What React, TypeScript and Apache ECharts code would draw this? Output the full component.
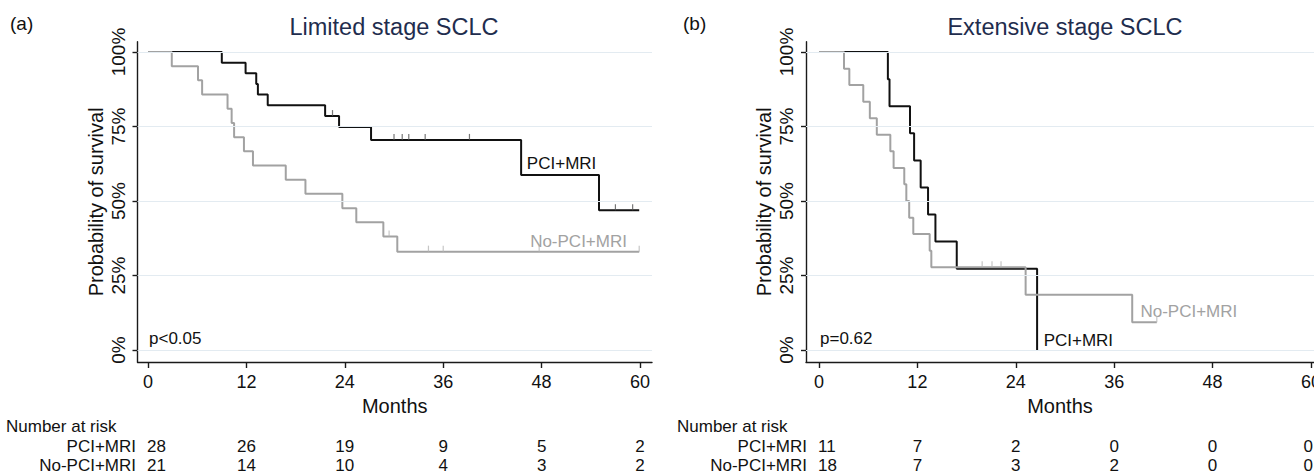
import React, { useEffect, useRef } from 'react';
import * as echarts from 'echarts';

// ---------- data ----------
const panelLabels = ['(a)', '(b)'];
const panelTitles = ['Limited stage SCLC', 'Extensive stage SCLC'];
const groupNames = ['PCI+MRI', 'No-PCI+MRI'];
const pValues = ['p<0.05', 'p=0.62'];
const xTicks = [0, 12, 24, 36, 48, 60];
const yTicks = [0, 25, 50, 75, 100];

// Limited stage, PCI+MRI (months, survival %)
const limPciT = [0, 9.0, 11.9, 13.2, 13.4, 14.6, 21.6, 23.3, 27.2, 45.5, 55.0, 59.9];
const limPciS = [100, 96.4, 92.9, 89.3, 85.7, 82.1, 78.5, 74.8, 70.5, 58.7, 46.9, 46.9];
const limPciCensor = [22.5, 30.0, 31.0, 31.8, 33.8, 39.2, 57.0, 59.1];
// Limited stage, No-PCI+MRI
const limNoT = [0, 2.9, 6.1, 6.6, 9.7, 10.2, 10.5, 11.7, 12.8, 16.8, 19.2, 23.7, 25.4, 28.7, 30.4, 59.9];
const limNoS = [100, 95.2, 90.5, 85.7, 81.0, 76.2, 71.4, 66.7, 61.9, 57.1, 52.4, 47.6, 42.9, 38.1, 33.0, 33.0];
const limNoCensor = [29.4, 34.2, 36.0, 47.7, 59.9];

// Extensive stage, PCI+MRI
const extPciT = [0, 8.4, 8.6, 11.1, 11.6, 12.4, 13.3, 14.2, 16.8, 26.6];
const extPciS = [100, 90.9, 81.8, 72.7, 63.6, 54.5, 45.5, 36.4, 27.3, 0];
const extPciCensor: number[] = [];
// Extensive stage, No-PCI+MRI
const extNoT = [0, 3.05, 3.7, 5.4, 6.2, 7.05, 8.7, 9.1, 10.4, 10.65, 11.0, 11.5, 13.5, 13.7, 25.2, 38.2, 41.2];
const extNoS = [100, 94.4, 88.9, 83.3, 77.8, 72.2, 66.7, 61.1, 55.6, 50.0, 44.4, 38.9, 33.3, 27.8, 18.5, 9.3, 9.3];
const extNoCensor = [19.9, 21.1, 22.2, 41.2];

// Numbers at risk at xTicks
const limRiskPci = [28, 26, 19, 9, 5, 2];
const limRiskNo = [21, 14, 10, 4, 3, 2];
const extRiskPci = [11, 7, 2, 0, 0, 0];
const extRiskNo = [18, 7, 3, 2, 0, 0];

// ---------- styling ----------
const FONT = '"Liberation Sans", Arial, Helvetica, sans-serif';
const BLACK = '#111111';
const GRAY = '#a2a2a2';
const AXIS = '#1a1a1a';
const GRID = '#e3ebf1';
const NAVY = '#1f2d4e';
const W = 1314;

const grids = [
  { left: 137.5, top: 41.7, width: 514.5, height: 320.3 },
  { left: 806, top: 41.7, width: 508, height: 320.3 },
];
const xRanges = [
  [-1.28, 61.46],
  [-1.585, 60.37],
];
const yRange = [-4.03, 103.46];

const panels = [
  {
    pciT: limPciT, pciS: limPciS, pciC: limPciCensor,
    noT: limNoT, noS: limNoS, noC: limNoCensor,
    riskPci: limRiskPci, riskNo: limRiskNo,
  },
  {
    pciT: extPciT, pciS: extPciS, pciC: extPciCensor,
    noT: extNoT, noS: extNoS, noC: extNoCensor,
    riskPci: extRiskPci, riskNo: extRiskNo,
  },
];

function survAt(T: number[], S: number[], t: number) {
  let v = S[0];
  for (let i = 0; i < T.length; i++) if (T[i] <= t) v = S[i];
  return v;
}

export default function App() {
  const ref = useRef<HTMLDivElement>(null);
  useEffect(() => {
    if (!ref.current) return;
    const chart = echarts.init(ref.current, null, { renderer: 'svg' });

    const series: any[] = [];
    panels.forEach((p, i) => {
      series.push({
        type: 'line', xAxisIndex: i, yAxisIndex: i, data: [], z: 1, silent: true,
        markLine: {
          silent: true, symbol: 'none', animation: false,
          label: { show: false },
          lineStyle: { color: GRID, width: 1.2, type: 'solid' },
          data: yTicks.map((v) => ({ yAxis: v })),
        },
      });
      series.push({
        type: 'line', name: groupNames[0], xAxisIndex: i, yAxisIndex: i, step: 'end',
        data: p.pciT.map((t, k) => [t, p.pciS[k]]), showSymbol: false, symbol: 'none',
        lineStyle: { color: BLACK, width: 2 }, z: 3, silent: true,
      });
      series.push({
        type: 'line', name: groupNames[1], xAxisIndex: i, yAxisIndex: i, step: 'end',
        data: p.noT.map((t, k) => [t, p.noS[k]]), showSymbol: false, symbol: 'none',
        lineStyle: { color: GRAY, width: 2 }, z: 4, silent: true,
      });
      series.push({
        type: 'scatter', xAxisIndex: i, yAxisIndex: i, silent: true, z: 3,
        symbol: 'rect', symbolSize: [1.2, 6], symbolOffset: [0, -3],
        itemStyle: { color: '#555' },
        data: p.pciC.map((t) => [t, survAt(p.pciT, p.pciS, t)]),
      });
      series.push({
        type: 'scatter', xAxisIndex: i, yAxisIndex: i, silent: true, z: 4,
        symbol: 'rect', symbolSize: [1.2, 6], symbolOffset: [0, -3],
        itemStyle: { color: '#b8b8b8' },
        data: p.noC.map((t) => [t, survAt(p.noT, p.noS, t)]),
      });
    });

    const option: any = {
      animation: false,
      backgroundColor: '#ffffff',
      grid: grids.map((g) => ({ ...g, containLabel: false, outerBoundsMode: 'none' })),
      xAxis: [0, 1].map((i) => ({
        type: 'value', gridIndex: i, min: xRanges[i][0], max: xRanges[i][1],
        axisLine: { show: true, onZero: false, lineStyle: { color: AXIS, width: 1.4 } },
        axisTick: { show: true, customValues: xTicks, length: 6, lineStyle: { color: AXIS, width: 1.4 } },
        axisLabel: { customValues: xTicks, fontSize: 18, color: '#111', margin: 11, fontFamily: FONT },
        splitLine: { show: false },
        name: 'Months', nameLocation: 'middle', nameGap: 32,
        nameTextStyle: { fontSize: 20, color: '#111', fontFamily: FONT },
      })),
      yAxis: [0, 1].map((i) => ({
        type: 'value', gridIndex: i, min: yRange[0], max: yRange[1],
        axisLine: { show: true, onZero: false, lineStyle: { color: AXIS, width: 1.4 } },
        axisTick: { show: true, customValues: yTicks, length: 5, lineStyle: { color: AXIS, width: 1.4 } },
        axisLabel: {
          customValues: yTicks, rotate: 90, formatter: '{value}%', fontSize: 19,
          color: '#111', margin: 10, fontFamily: FONT,
        },
        splitLine: { show: false },
        name: 'Probability of survival', nameLocation: 'middle', nameRotate: 90, nameGap: 32,
        nameTextStyle: { fontSize: 20, color: '#111', fontFamily: FONT },
      })),
      series,
    };
    chart.setOption(option);

    const txt = (x: number, y: number, text: string, o: any = {}) => ({
      type: 'text', x, y, silent: true,
      style: {
        text, fontFamily: FONT, fontSize: o.fontSize || 17, fill: o.fill || '#111',
        align: o.align || 'left', verticalAlign: 'middle',
      },
    });

    const g: any[] = [];
    const labelX = [10, 683];
    const titleX = [394, 1065];
    panels.forEach((p, i) => {
      const px = (v: number) => chart.convertToPixel({ xAxisIndex: i }, v) as number;
      const py = (v: number) => chart.convertToPixel({ yAxisIndex: i }, v) as number;
      g.push(txt(labelX[i], 23, panelLabels[i], { fontSize: 19 }));
      g.push(txt(titleX[i], 27, panelTitles[i], { fontSize: 23.5, fill: NAVY, align: 'center' }));
      g.push(txt(px(0) + 1, py(4), pValues[i], { fontSize: 17 }));
      const nar = i === 0 ? 6 : 677;
      const rowR = px(0) - 12;
      g.push(txt(nar, 426, 'Number at risk'));
      g.push(txt(rowR, 446, groupNames[0], { align: 'right' }));
      g.push(txt(rowR, 465, groupNames[1], { align: 'right' }));
      xTicks.forEach((t, k) => {
        const first = k === 0;
        let x = first ? px(t) - 1 : px(t);
        let al = first ? 'left' : 'center';
        if (!first && x + 6 > W - 1) { x = W - 1; al = 'right'; }
        g.push(txt(x, 446, String(p.riskPci[k]), { align: al }));
        g.push(txt(x, 465, String(p.riskNo[k]), { align: al }));
      });
    });
    // curve labels
    {
      const px0 = (v: number) => chart.convertToPixel({ xAxisIndex: 0 }, v) as number;
      const py0 = (v: number) => chart.convertToPixel({ yAxisIndex: 0 }, v) as number;
      const px1 = (v: number) => chart.convertToPixel({ xAxisIndex: 1 }, v) as number;
      const py1 = (v: number) => chart.convertToPixel({ yAxisIndex: 1 }, v) as number;
      g.push(txt(px0(46.2), py0(62.6), groupNames[0]));
      g.push(txt(px0(46.6), py0(36.4), groupNames[1], { fill: GRAY }));
      g.push(txt(px1(27.4), py1(3.1), groupNames[0]));
      g.push(txt(px1(39.2), py1(12.9), groupNames[1], { fill: GRAY }));
    }
    chart.setOption({ graphic: g });

    return () => chart.dispose();
  }, []);

  return (
    <div
      ref={ref}
      style={{ position: 'fixed', left: 0, top: 0, width: W, height: 473, background: '#fff' }}
    />
  );
}
